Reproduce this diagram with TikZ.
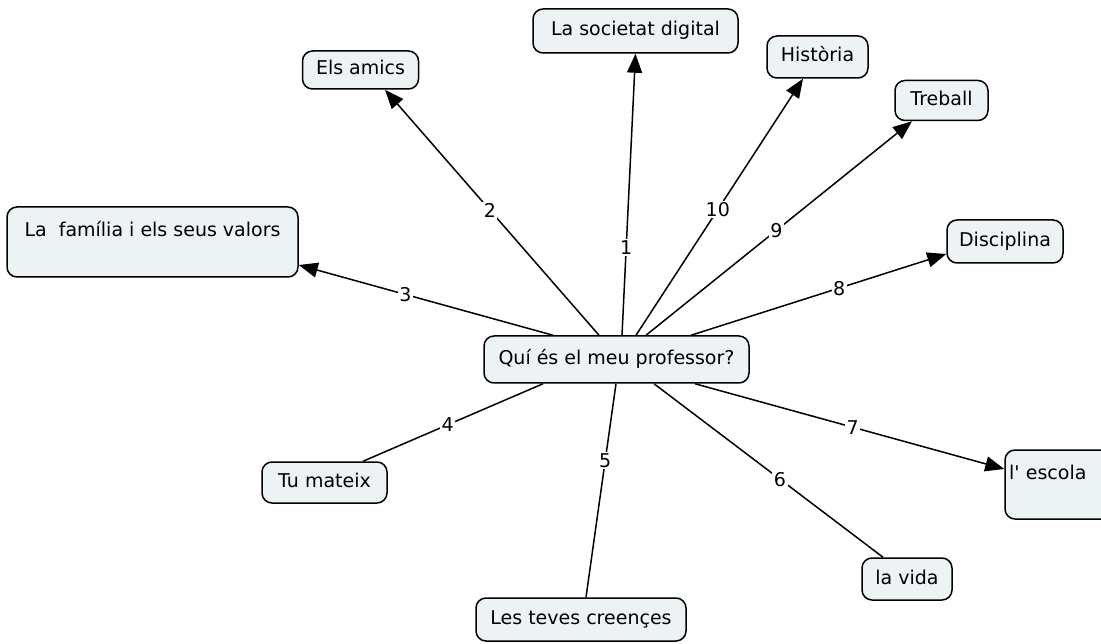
\documentclass[tikz,border=0pt]{standalone}
\usepackage{fontspec}
\newfontfamily\djv{DejaVu Sans}
\usetikzlibrary{arrows.meta}
\definecolor{boxfill}{HTML}{EDF2F5}
\tikzset{
  concept/.style={draw=black, fill=boxfill, rounded corners=10pt, line width=1.5pt,
    inner sep=0pt, text height=14pt, text depth=4pt, font=\djv\fontsize{19}{23}\selectfont},
  link/.style={line width=1.5pt, draw=black},
  arr/.style={-{Triangle[length=19pt,width=15pt]}},
  lbl/.style={fill=white, inner sep=1.5pt, text height=14pt, text depth=0pt,
    font=\djv\fontsize{19}{23}\selectfont}
}
\begin{document}
\begin{tikzpicture}[x=1pt,y=-1pt]
\useasboundingbox (0,0) rectangle (1101,644);
\node[concept, minimum width=265pt, minimum height=47pt] (c) at (616.5,359.5) {Quí és el meu professor?};
\node[concept, minimum width=205pt, minimum height=44pt] (soc) at (635.5,31) {La societat digital};
\node[concept, minimum width=116pt, minimum height=38pt] (amics) at (360.5,70) {Els amics};
\node[concept, minimum width=101pt, minimum height=42pt] (hist) at (817.5,57) {Història};
\node[concept, minimum width=93pt, minimum height=40pt] (treb) at (941.5,100.5) {Treball};
\node[concept, minimum width=291pt, minimum height=70pt, text height=14pt, text depth=24pt] (fam) at (152.5,242) {La\ \ família i els seus valors};
\node[concept, minimum width=116pt, minimum height=43pt] (disc) at (1005,241.5) {Disciplina};
\node[concept, minimum width=125pt, minimum height=41pt] (tu) at (324.5,482.5) {Tu mateix};
\node[concept, minimum width=210pt, minimum height=43pt] (cre) at (581,619.5) {Les teves creençes};
\node[concept, minimum width=90pt, minimum height=42pt] (vida) at (907,579) {la vida};
\node[concept, text width=102pt, align=left, inner xsep=4pt, minimum height=69pt, text height=14pt, text depth=25pt] (esc) at (1060,484.5) {l' escola};

\draw[link,arr] ([xshift=5.5pt]c.north) -- node[lbl,pos=0.31]{1} (soc.south);
\draw[link,arr] ([xshift=-17.5pt]c.north) -- node[lbl,pos=0.51]{2} ([xshift=24.5pt]amics.south);
\draw[link,arr] ([xshift=-63.5pt]c.north) -- node[lbl,pos=0.58]{3} ([yshift=-23pt]fam.east);
\draw[link] ([xshift=-73.5pt]c.south) -- node[lbl,pos=0.53]{4} ([xshift=38.5pt]tu.north);
\draw[link] ([xshift=-0.5pt]c.south) -- node[lbl,pos=0.36]{5} ([xshift=5pt]cre.north);
\draw[link] ([xshift=37.5pt]c.south) -- node[lbl,pos=0.55]{6} ([xshift=-24pt]vida.north);
\draw[link,arr] ([xshift=78.5pt]c.south) -- node[lbl,pos=0.51]{7} ([yshift=15.5pt]esc.west);
\draw[link,arr] ([xshift=74.5pt]c.north) -- node[lbl,pos=0.58]{8} ([yshift=-12.5pt]disc.west);
\draw[link,arr] ([xshift=29.5pt]c.north) -- node[lbl,pos=0.49]{9} ([xshift=-29.5pt]treb.south);
\draw[link,arr] ([xshift=19.5pt]c.north) -- node[lbl,pos=0.49]{10} ([xshift=-14.5pt]hist.south);
\end{tikzpicture}
\end{document}
